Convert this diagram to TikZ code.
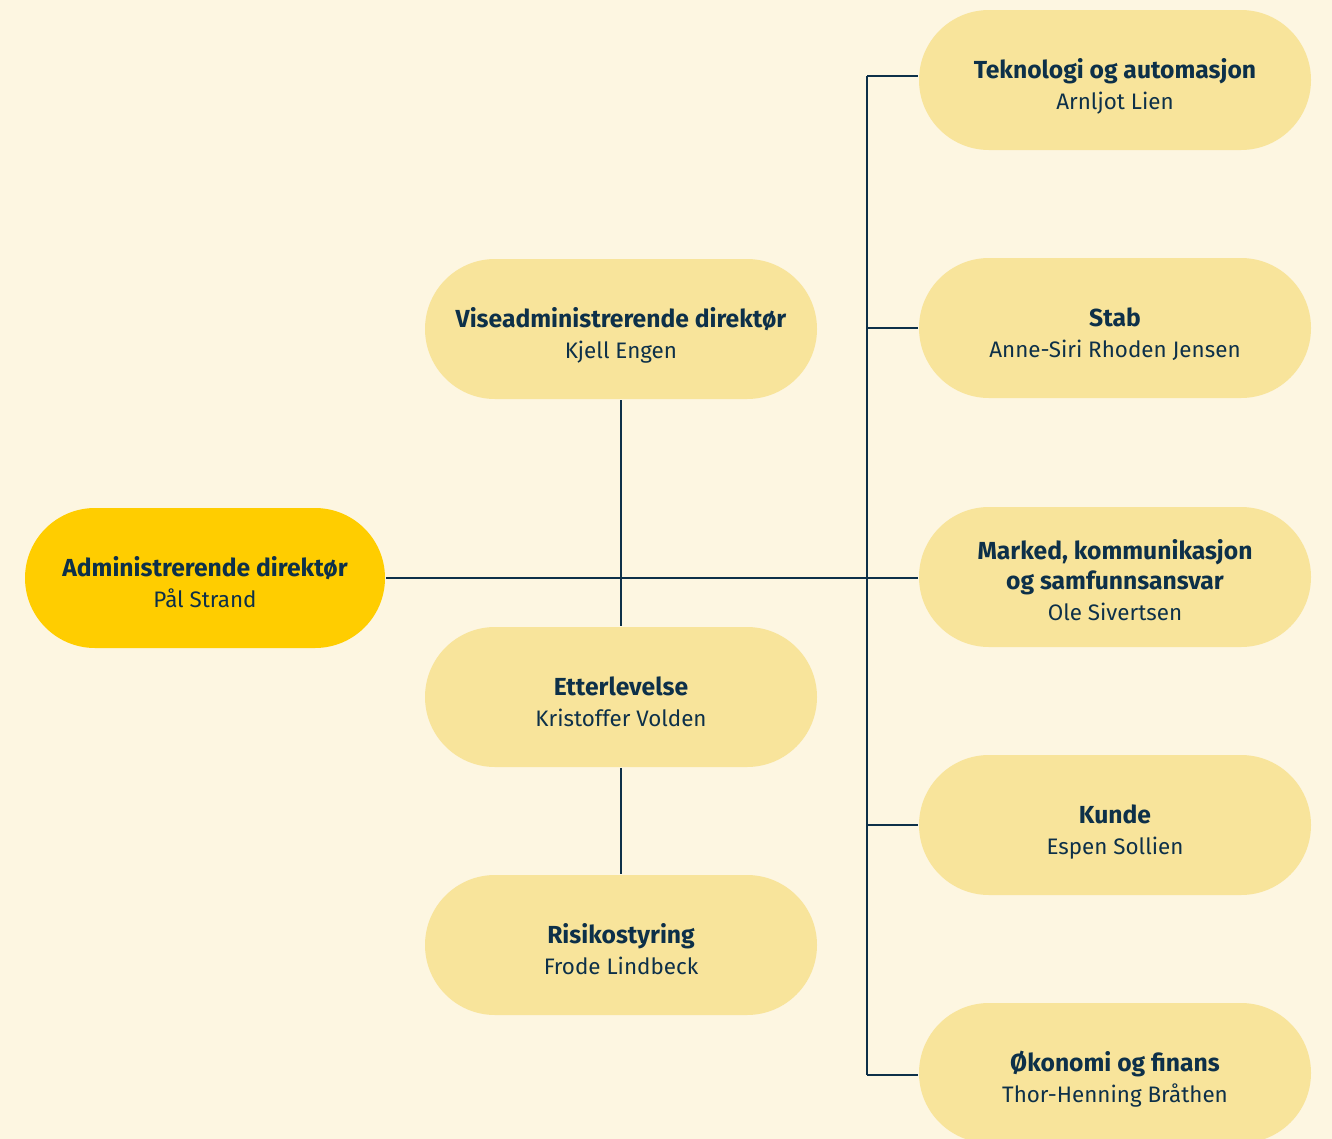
\documentclass[tikz,border=0pt]{standalone}
\usepackage{fontspec}
\setmainfont{Fira Sans}
\usetikzlibrary{positioning}
\definecolor{bgcream}{HTML}{FDF6E1}
\definecolor{unitfill}{HTML}{F8E49B}
\definecolor{chiefgold}{HTML}{FFCD00}
\definecolor{navy}{HTML}{0D3049}
\tikzset{
    every picture/.style={
        x=0.75pt,y=-0.75pt,line width=1.5pt,draw=navy,
        unit/.style={rectangle,rounded corners=52.5pt,fill=unitfill,text=navy,
            minimum width=294pt,minimum height=105pt,align=center,
            font=\fontsize{16.8}{23}\selectfont,text height=43.5pt,text depth=0pt},
        chief/.style={unit,fill=chiefgold,minimum width=270pt}
    }
}
\newcommand{\unithead}[1]{{\fontsize{18.5}{23}\selectfont\bfseries #1}}

\begin{document}
\begin{tikzpicture}
    \fill[bgcream] (0,0) rectangle (1332,1139);
    \useasboundingbox (0,0) rectangle (1332,1139);
    \node[chief]  (ceo)   at (205,578)  {\unithead{Administrerende direktør}\\Pål Strand};
    \node[unit]   (vise)  at (621,329)  {\unithead{Viseadministrerende direktør}\\Kjell Engen};
    \node[unit]   (etter) at (621,697)  {\unithead{Etterlevelse}\\Kristoffer Volden};
    \node[unit]   (risk)  at (621,945)  {\unithead{Risikostyring}\\Frode Lindbeck};
    \node[unit]   (tek)   at (1115,80)  {\unithead{Teknologi og automasjon}\\Arnljot Lien};
    \node[unit]   (stab)  at (1115,328) {\unithead{Stab}\\Anne-Siri Rhoden Jensen};
    \node[unit,text height=65pt] (mkt) at (1115,577) {\unithead{Marked, kommunikasjon}\\\unithead{og samfunnsansvar}\\Ole Sivertsen};
    \node[unit]   (kunde) at (1115,825) {\unithead{Kunde}\\Espen Sollien};
    \node[unit]   (oko)   at (1115,1073) {\unithead{Økonomi og finans}\\Thor-Henning Bråthen};
    \coordinate   (spinetop) at (867,76);
    \coordinate   (spinebot) at (867,1075);
    \draw[navy] (ceo.east) -- (ceo.east -| mkt.west)
                (vise) -- (etter)
                (etter) -- (risk)
                (spinetop) -- (spinebot)
                (spinetop) -- (spinetop -| tek.west)
                (spinetop |- stab) -- (stab.west)
                (spinetop |- kunde) -- (kunde.west)
                (spinebot) -- (spinebot -| oko.west);
\end{tikzpicture}
\end{document}
